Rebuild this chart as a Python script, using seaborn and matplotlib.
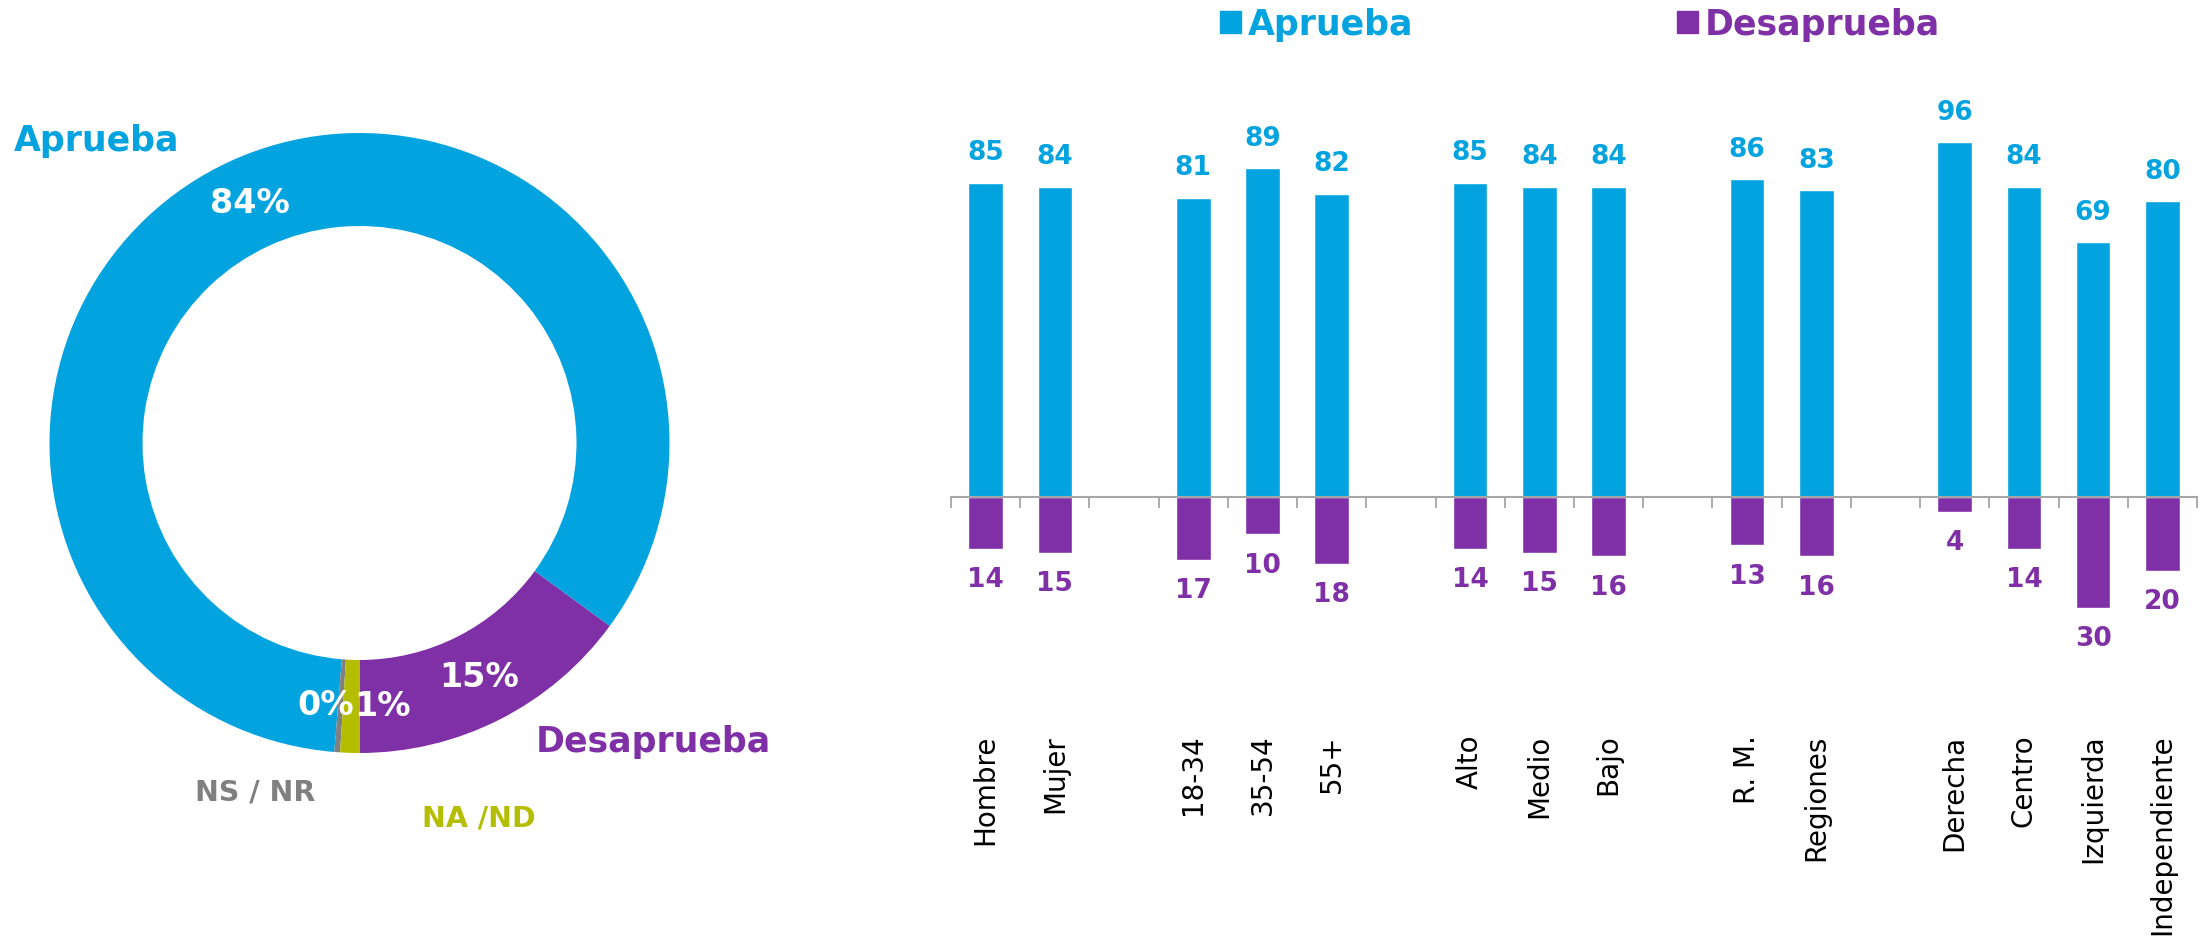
import numpy as np
import pandas as pd
import matplotlib
matplotlib.use('Agg')
import matplotlib.pyplot as plt
from matplotlib.patches import Patch
import seaborn as sns

#Colors
BLUE = '#03A3DF'
PURPLE = '#8030A6'
GRAY = '#808080'
OLIVE = '#B5BD00'
AXIS = '#A6A6A6'

#Donut data
donut_labels = ['Desaprueba', 'Aprueba', 'NS / NR', 'NA /ND']
donut_values = [15, 84, 0.3, 1]
donut_colors = [PURPLE, BLUE, GRAY, OLIVE]

#Bar data by group
grupos = ['Hombre', 'Mujer', '18-34', '35-54', '55+', 'Alto', 'Medio', 'Bajo',
          'R. M.', 'Regiones', 'Derecha', 'Centro', 'Izquierda', 'Independiente']
aprueba = [85, 84, 81, 89, 82, 85, 84, 84, 86, 83, 96, 84, 69, 80]
desaprueba = [14, 15, 17, 10, 18, 14, 15, 16, 13, 16, 4, 14, 30, 20]

#Category order with blank separators between blocks
orden = ['Hombre', 'Mujer', ' ', '18-34', '35-54', '55+', '  ', 'Alto', 'Medio', 'Bajo',
         '   ', 'R. M.', 'Regiones', '    ', 'Derecha', 'Centro', 'Izquierda', 'Independiente']

df = pd.DataFrame({'grupo': grupos, 'aprueba': aprueba, 'desaprueba': desaprueba})
df['neg'] = -df['desaprueba']

sns.set_style('white')
plt.rcParams['font.family'] = ['DejaVu Sans']

fig = plt.figure(figsize=(22.07, 9.47), dpi=100)

#---- Donut ----
ax_pie = fig.add_axes([0, 47/947, 760/2207, 840/947])
wedges, _ = ax_pie.pie(donut_values, colors=donut_colors, startangle=270, counterclock=True,
                       radius=1, wedgeprops={'width': 0.3, 'linewidth': 0})
ax_pie.set_xlim(-359.5/310, (760-359.5)/310)
ax_pie.set_ylim(-(900-443)/310, (443-60)/310)
ax_pie.set_aspect('auto')
ax_pie.axis('off')

for w, v, lab in zip(wedges, donut_values, donut_labels):
    ang = np.deg2rad((w.theta1 + w.theta2) / 2)
    x, y = 0.85*np.cos(ang), 0.85*np.sin(ang)
    ha = 'center'
    if lab == 'NS / NR':
        x, ha = x + 0.045, 'right'
    elif lab == 'NA /ND':
        x, ha = x + 0.01, 'left'
    ax_pie.text(x, y, f'{v:.0f}%', color='white', fontsize=24, fontweight='bold',
                ha=ha, va='center')

ax_pie.text(-1.115, 0.974, 'Aprueba', color=BLUE, fontsize=25, fontweight='bold', ha='left', va='center')
ax_pie.text(0.569, -0.965, 'Desaprueba', color=PURPLE, fontsize=25, fontweight='bold', ha='left', va='center')
ax_pie.text(-0.337, -1.126, 'NS / NR', color=GRAY, fontsize=20.5, fontweight='bold', ha='center', va='center')
ax_pie.text(0.385, -1.21, 'NA /ND', color=OLIVE, fontsize=20.5, fontweight='bold', ha='center', va='center')

#---- Bars ----
ax = fig.add_axes([951/2207, 302/947, 1246/2207, 536/947])
sns.barplot(data=df, x='grupo', y='aprueba', order=orden, color=BLUE, saturation=1,
            width=0.5, ax=ax)
sns.barplot(data=df, x='grupo', y='neg', order=orden, color=PURPLE, saturation=1,
            width=0.5, ax=ax)
ax.set_xlim(-0.5, len(orden) - 0.5)
ax.set_ylim(-40, 105)
ax.set_xlabel('')
ax.set_ylabel('')
ax.set_yticks([])

#Value labels
for g, a, d in zip(grupos, aprueba, desaprueba):
    xi = orden.index(g)
    ax.text(xi, a + 8, str(a), color=BLUE, fontsize=19, fontweight='bold', ha='center', va='center')
    ax.text(xi, -d - 8.5, str(d), color=PURPLE, fontsize=19, fontweight='bold', ha='center', va='center')

#Zero line with boundary ticks, labels pushed to bottom
for s in ['left', 'top', 'right']:
    ax.spines[s].set_visible(False)
ax.spines['bottom'].set_position(('data', 0))
ax.spines['bottom'].set_color(AXIS)
ax.spines['bottom'].set_linewidth(1.5)
ax.set_xticks(np.arange(-0.5, len(orden), 1), minor=True)
ax.tick_params(axis='x', which='minor', bottom=True, length=8, width=1.3, color=AXIS, direction='out')
ax.tick_params(axis='x', which='major', bottom=True, length=0, pad=171, labelsize=20,
               labelrotation=90, labelcolor='black')
for t in ax.get_xticklabels():
    t.set_va('top')

#Legend
leg = fig.legend(handles=[Patch(color=BLUE, label='Aprueba'), Patch(color=PURPLE, label='Desaprueba')],
                 loc='center', bbox_to_anchor=(0.716, 0.974), ncol=2, frameon=False,
                 prop={'size': 25, 'weight': 'bold'}, handlelength=0.6, handleheight=0.6,
                 handletextpad=0.2, columnspacing=7.6)
for t, c in zip(leg.get_texts(), [BLUE, PURPLE]):
    t.set_color(c)

plt.savefig('out.png', dpi=100)
